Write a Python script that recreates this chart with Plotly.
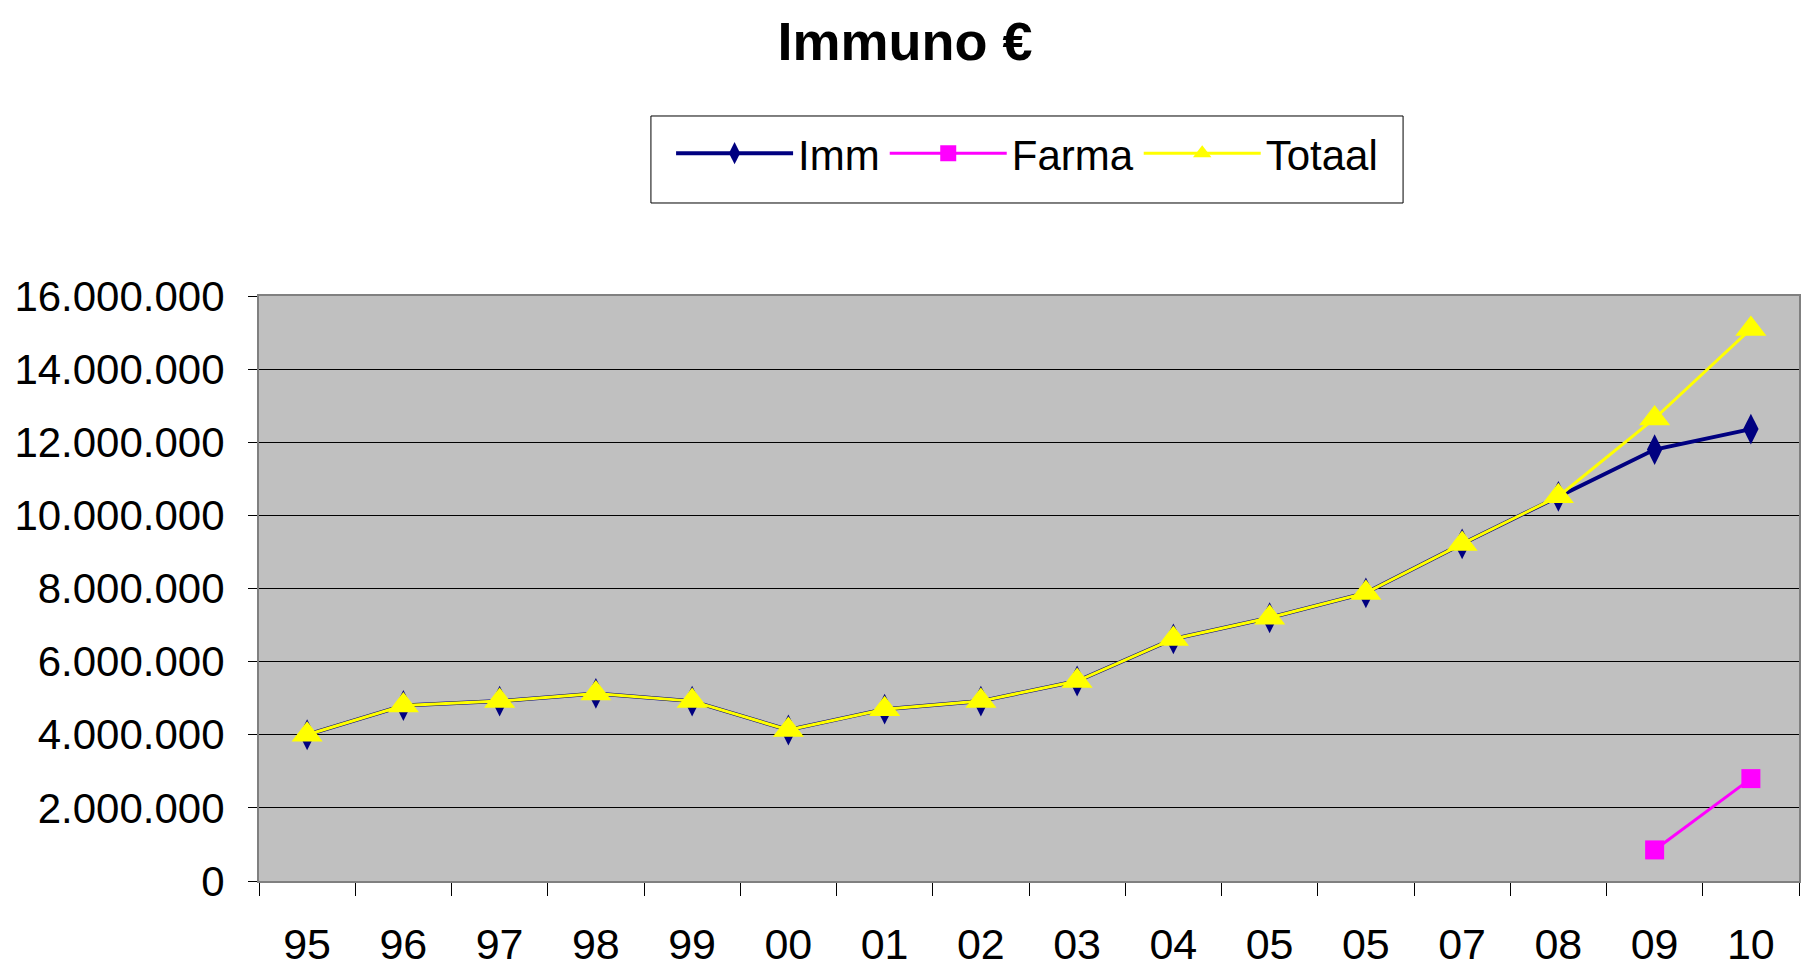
import plotly.graph_objects as go

years = ["95", "96", "97", "98", "99", "00", "01", "02", "03", "04", "05", "05", "07", "08", "09", "10"]
imm = [4000000, 4800000, 4920000, 5130000, 4920000, 4130000, 4700000, 4920000, 5470000,
       6620000, 7200000, 7880000, 9220000, 10520000, 11800000, 12360000]
farma = [None] * 14 + [850000, 2800000]
totaal = [4000000, 4800000, 4920000, 5130000, 4920000, 4130000, 4700000, 4920000, 5470000,
          6620000, 7200000, 7880000, 9220000, 10520000, 12650000, 15100000]
yticks = [0, 2000000, 4000000, 6000000, 8000000, 10000000, 12000000, 14000000, 16000000]

xpos = list(range(len(years)))
font = "Liberation Sans, Arial, sans-serif"

fig = go.Figure()
fig.add_trace(go.Scatter(x=xpos, y=imm, name="Imm", mode="lines+markers",
                         line=dict(color="#000080", width=4),
                         marker=dict(symbol="diamond-tall", size=22, color="#000080")))
fig.add_trace(go.Scatter(x=xpos, y=farma, name="Farma", mode="lines+markers",
                         line=dict(color="#FF00FF", width=3),
                         marker=dict(symbol="square", size=19, color="#FF00FF")))
fig.add_trace(go.Scatter(x=xpos, y=totaal, name="Totaal", mode="lines+markers",
                         line=dict(color="#FFFF00", width=3),
                         marker=dict(symbol="triangle-up", size=27, color="#FFFF00")))

# legend frame (style only)
fig.add_shape(type="rect", xref="paper", yref="paper", x0=0.2545, x1=0.7429, y0=1.159, y1=1.3077,
              line=dict(color="black", width=1), fillcolor="white", layer="below")

fig.update_layout(
    width=1804, height=960,
    margin=dict(l=251, r=13, t=288, b=87, autoexpand=False),
    paper_bgcolor="white", plot_bgcolor="#C0C0C0",
    separators=",.",
    font=dict(family=font, color="black"),
    title=dict(text="<b>Immuno €</b>", x=0.4972, xanchor="center", y=0.966, yanchor="middle",
               font=dict(size=54, family=font, color="black")),
    legend=dict(orientation="h", x=0.5649, xanchor="center", xref="container",
                y=0.884, yanchor="top", yref="container",
                bgcolor="rgba(0,0,0,0)", borderwidth=0,
                font=dict(size=42, family=font), itemwidth=117,
                traceorder="normal"),
    showlegend=True,
)
fig.update_xaxes(
    range=[-0.5, 15.5], tickvals=xpos, ticktext=years, ticks="", automargin=False,
    showgrid=False, zeroline=False,
    showline=True, linecolor="#808080", linewidth=2, mirror=True,
    tickfont=dict(size=43, family=font), ticklabelstandoff=24,
    minor=dict(tickvals=[i - 0.5 for i in range(len(years) + 1)], ticks="outside",
               ticklen=13, tickcolor="black", tickwidth=1, showgrid=False),
)
fig.update_yaxes(
    range=[0, 16000000], tickvals=yticks, tickformat=",.0f", automargin=False,
    ticks="outside", ticklen=9, tickcolor="black",
    showgrid=True, gridcolor="black", gridwidth=1, zeroline=False,
    showline=True, linecolor="#808080", linewidth=2, mirror=True,
    tickfont=dict(size=42, family=font), ticklabelstandoff=15,
)

fig.write_html("out.html")
